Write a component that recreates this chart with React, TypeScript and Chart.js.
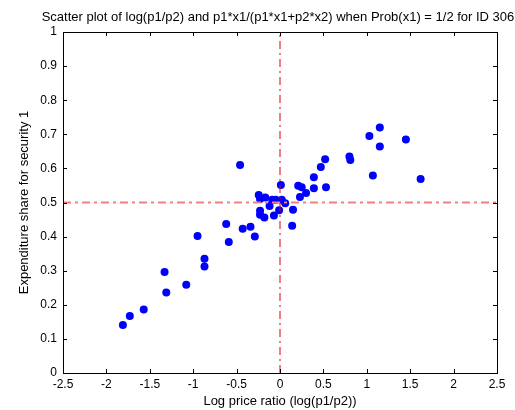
import React, { useEffect, useRef } from "react";
import { Chart, registerables } from "chart.js";

Chart.register(...registerables);

const titleText =
  "Scatter plot of log(p1/p2) and p1*x1/(p1*x1+p2*x2) when Prob(x1) = 1/2 for ID 306";
const xAxisLabel = "Log price ratio (log(p1/p2))";
const yAxisLabel = "Expenditure share for security 1";

const xTicks = [-2.5, -2, -1.5, -1, -0.5, 0, 0.5, 1, 1.5, 2, 2.5];
const yTicks = [0, 0.1, 0.2, 0.3, 0.4, 0.5, 0.6, 0.7, 0.8, 0.9, 1];

const logPriceRatio = [
  -1.81, -1.73, -1.57, -1.33, -1.31, -1.08, -0.95, -0.87, -0.87, -0.62, -0.59,
  -0.46, -0.43, -0.34, -0.29, -0.245, -0.23, -0.17, -0.23, -0.23, -0.18, -0.12,
  -0.09, -0.05, -0.07, -0.01, 0.01, 0.02, 0.06, 0.14, 0.15, 0.21, 0.25, 0.23,
  0.3, 0.39, 0.39, 0.47, 0.52, 0.53, 0.8, 0.81, 1.03, 1.15, 1.15, 1.07, 1.45,
  1.62,
];
const expenditureShare = [
  0.141, 0.167, 0.186, 0.296, 0.236, 0.259, 0.402, 0.335, 0.312, 0.437, 0.384,
  0.61, 0.423, 0.429, 0.4, 0.522, 0.51, 0.515, 0.476, 0.464, 0.456, 0.49,
  0.508, 0.508, 0.462, 0.477, 0.551, 0.508, 0.498, 0.432, 0.479, 0.549, 0.545,
  0.516, 0.528, 0.542, 0.574, 0.604, 0.627, 0.545, 0.635, 0.625, 0.695, 0.72,
  0.664, 0.579, 0.685, 0.569,
];

const hLineX = [-2.5, 2.5];
const hLineY = [0.5, 0.5];
const vLineX = [0, 0];
const vLineY = [0, 1];

const FONT = "'Liberation Sans', Arial, sans-serif";

const framePlugin = {
  id: "frameTicks",
  afterDatasetsDraw(chart: any) {
    const { ctx, chartArea } = chart;
    const xs = chart.scales.x;
    const ys = chart.scales.y;
    const { left, right, top, bottom } = chartArea;
    ctx.save();
    ctx.strokeStyle = "#000";
    ctx.lineWidth = 1;
    ctx.beginPath();
    const L = 4;
    xTicks.forEach((v) => {
      const px = Math.round(xs.getPixelForValue(v)) + 0.5;
      ctx.moveTo(px, bottom);
      ctx.lineTo(px, bottom - L);
      ctx.moveTo(px, top);
      ctx.lineTo(px, top + L);
    });
    yTicks.forEach((v) => {
      const py = Math.round(ys.getPixelForValue(v)) + 0.5;
      ctx.moveTo(left, py);
      ctx.lineTo(left + L, py);
      ctx.moveTo(right, py);
      ctx.lineTo(right - L, py);
    });
    ctx.stroke();
    ctx.strokeRect(
      Math.round(left) + 0.5,
      Math.round(top) + 0.5,
      Math.round(right - left),
      Math.round(bottom - top)
    );
    ctx.fillStyle = "#000";
    ctx.font = `13px ${FONT}`;
    ctx.textAlign = "center";
    ctx.textBaseline = "middle";
    ctx.fillText(titleText, 278, 17);
    ctx.restore();
  },
};

export default function App() {
  const ref = useRef<HTMLCanvasElement | null>(null);
  useEffect(() => {
    if (!ref.current) return;
    Chart.defaults.font.family = FONT;
    Chart.defaults.color = "#000";
    const chart = new Chart(ref.current, {
      type: "scatter",
      data: {
        datasets: [
          {
            type: "line",
            data: vLineX.map((x, i) => ({ x, y: vLineY[i] })),
            borderColor: "#e00000",
            borderWidth: 1,
            borderDash: [8, 4, 2, 4],
            pointRadius: 0,
            fill: false,
          } as any,
          {
            type: "line",
            data: hLineX.map((x, i) => ({ x, y: hLineY[i] })),
            borderColor: "#f08080",
            borderWidth: 2,
            borderDash: [8, 4, 3, 4],
            pointRadius: 0,
            fill: false,
          } as any,
          {
            data: logPriceRatio.map((x, i) => ({ x, y: expenditureShare[i] })),
            backgroundColor: "#0000ff",
            borderColor: "#0000ff",
            borderWidth: 0,
            pointRadius: 4,
          },
        ],
      },
      options: {
        animation: false,
        responsive: false,
        devicePixelRatio: 1,
        layout: { padding: { left: 17, right: 18, top: 32, bottom: 0 } },
        plugins: {
          legend: { display: false },
          tooltip: { enabled: false },
          title: { display: false },
        },
        scales: {
          x: {
            type: "linear",
            min: -2.5,
            max: 2.5,
            afterBuildTicks: (s: any) => {
              s.ticks = xTicks.map((v) => ({ value: v }));
            },
            afterFit: (s: any) => {
              s.height = 37;
            },
            grid: { display: false, drawTicks: false },
            border: { display: false },
            ticks: {
              font: { size: 12 },
              padding: 4,
              maxRotation: 0,
              autoSkip: false,
              callback: (v: any) => String(v),
            },
            title: {
              display: true,
              text: xAxisLabel,
              font: { size: 13 },
              padding: { top: 0, bottom: 1 },
            },
          },
          y: {
            type: "linear",
            min: 0,
            max: 1,
            afterBuildTicks: (s: any) => {
              s.ticks = yTicks.map((v) => ({ value: v }));
            },
            afterFit: (s: any) => {
              s.width = 46;
            },
            grid: { display: false, drawTicks: false },
            border: { display: false },
            ticks: {
              font: { size: 12 },
              padding: 6,
              autoSkip: false,
              callback: (v: any) => String(v),
            },
            title: {
              display: true,
              text: yAxisLabel,
              font: { size: 13 },
              padding: { top: 0, bottom: 0 },
            },
          },
        },
      },
      plugins: [framePlugin],
    });
    return () => chart.destroy();
  }, []);
  return (
    <div style={{ position: "absolute", left: 0, top: 0, width: 515, height: 410, background: "#fff" }}>
      <canvas ref={ref} width={515} height={410} />
    </div>
  );
}
